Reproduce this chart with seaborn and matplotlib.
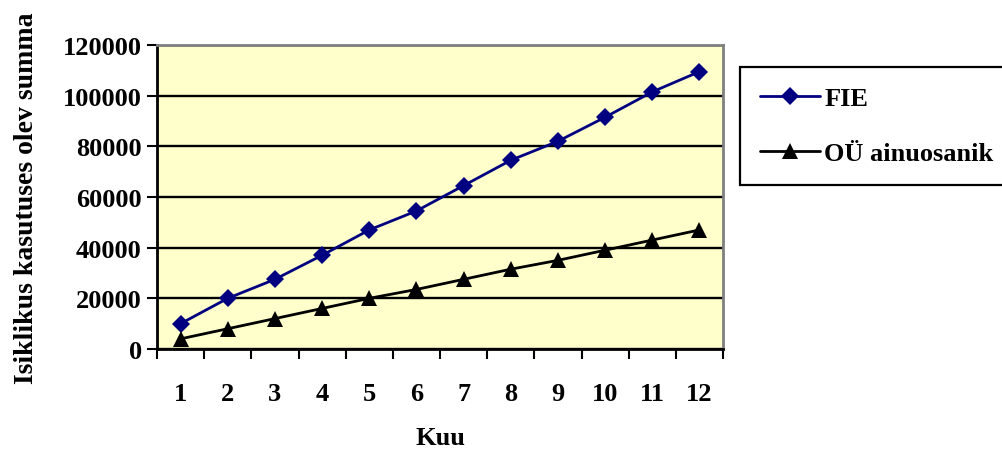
import numpy as np
import pandas as pd
import seaborn as sns
import matplotlib.pyplot as plt
from matplotlib.ticker import FixedLocator, MultipleLocator

# Monthly values
months = [1, 2, 3, 4, 5, 6, 7, 8, 9, 10, 11, 12]
fie = [10000, 20000, 27500, 37000, 47000, 54500, 64500, 74500, 82000, 91500, 101500, 109500]
ou = [4000, 8000, 12000, 16000, 20000, 23500, 27500, 31500, 35000, 39000, 43000, 47000]
series_names = ["FIE", "OÜ ainuosanik"]

sns.set_theme(style="white")
plt.rcParams["font.family"] = ["Liberation Serif", "DejaVu Serif"]
plt.rcParams["font.weight"] = "bold"
for key in ["text.color", "axes.labelcolor", "xtick.color", "ytick.color"]:
    plt.rcParams[key] = "black"

FS = 19

df = pd.DataFrame({
    "Kuu": months * 2,
    "Summa": fie + ou,
    "Vorm": [series_names[0]] * len(months) + [series_names[1]] * len(months),
})

fig = plt.figure(figsize=(10.02, 4.52), dpi=100)
ax = fig.add_axes([0.1567, 0.2257, 0.5649, 0.6725])
ax.set_facecolor("#FFFFCC")

sns.lineplot(
    data=df, x="Kuu", y="Summa", hue="Vorm", style="Vorm",
    palette={series_names[0]: "#000080", series_names[1]: "#000000"},
    markers={series_names[0]: "D", series_names[1]: "^"},
    dashes=False, linewidth=2, markersize=9, markeredgewidth=0,
    ax=ax, legend=True,
)
for line in ax.lines:
    if line.get_marker() == "^":
        line.set_markersize(11.5)

ax.set_xlim(0.5, 12.5)
ax.set_ylim(0, 120000)
ax.yaxis.set_major_locator(MultipleLocator(20000))
ax.grid(axis="y", color="black", linewidth=1.7)
ax.set_axisbelow(True)

# category ticks: labels at centers, tick marks at boundaries
ax.set_xticks(months)
ax.set_xticklabels([str(m) for m in months])
ax.xaxis.set_minor_locator(FixedLocator(np.arange(0.5, 13, 1)))
ax.tick_params(axis="x", which="major", length=0, pad=24, labelsize=FS)
ax.tick_params(axis="x", which="minor", length=7, width=1.5, color="black", direction="out", bottom=True)
ax.tick_params(axis="y", which="major", length=7, width=1.5, color="black", direction="out", left=True, labelsize=FS, pad=4)
for lab in ax.get_xticklabels() + ax.get_yticklabels():
    lab.set_fontweight("bold")

for side in ["left", "bottom"]:
    ax.spines[side].set_color("black")
    ax.spines[side].set_linewidth(2)
for side in ["top", "right"]:
    ax.spines[side].set_color("#808080")
    ax.spines[side].set_linewidth(2)

ax.set_xlabel("Kuu", fontsize=FS, fontweight="bold", labelpad=15)
ax.set_ylabel("Isiklikus kasutuses olev summa", fontsize=20, fontweight="bold", labelpad=17)

handles, labels = ax.get_legend_handles_labels()
for h in handles:
    if h.get_marker() == "^":
        h.set_markersize(11.5)
leg = fig.legend(
    handles, labels, loc="upper left", bbox_to_anchor=(740 / 1002, 1 - 68 / 452),
    bbox_transform=fig.transFigure,
    frameon=True, fancybox=False, edgecolor="black", framealpha=1,
    prop={"size": FS, "weight": "bold"}, handlelength=2.3, handletextpad=0.15,
    labelspacing=1.2, borderpad=0.75, borderaxespad=0,
)
leg.get_frame().set_linewidth(1.6)
ax.get_legend().remove()

fig.savefig("out.png", dpi=100, facecolor="white")
